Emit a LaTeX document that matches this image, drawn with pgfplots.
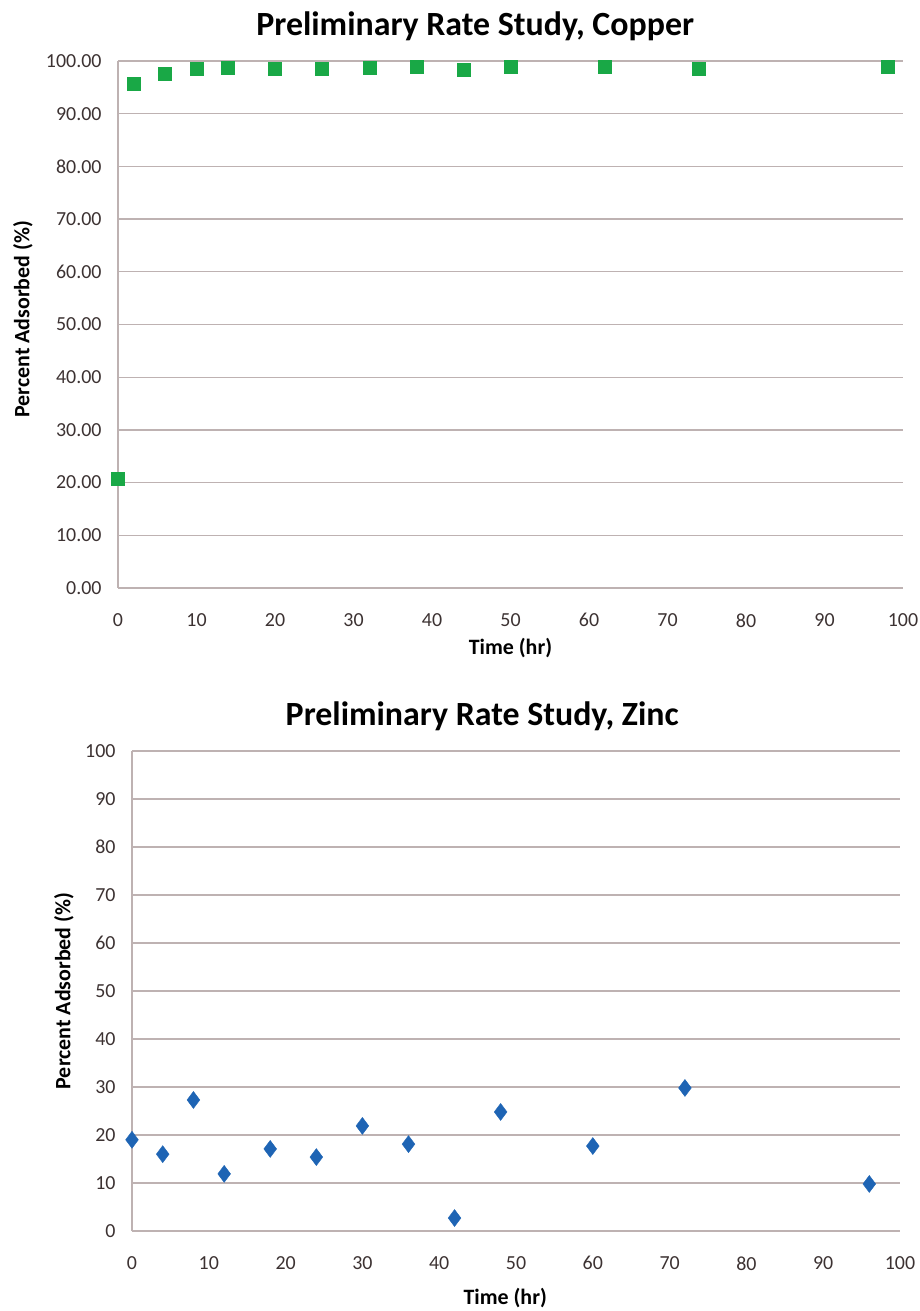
\documentclass[border=0pt]{standalone}
\usepackage{fontspec}
\setmainfont{Carlito}
\usepackage{pgfplots}
\pgfplotsset{compat=1.18}
\definecolor{gridc}{RGB}{190,178,178}
\definecolor{cugreen}{RGB}{25,168,70}
\definecolor{znblue}{RGB}{30,100,180}
\definecolor{tickc}{RGB}{60,50,50}
\pgfplotsset{
  base/.style={
    scale only axis,
    anchor=south west,
    xmin=0, xmax=100, ymin=0, ymax=100,
    xtick={0,10,...,100}, ytick={0,10,...,100},
    axis x line=bottom, axis y line=left,
    axis line style={gridc, line width=1.3bp, -},
    ymajorgrids, grid style={gridc, line width=1.3bp},
    major tick length=0pt, tick style={draw=none},
    /pgf/number format/assume math mode=true,
    tick label style={font=\fontsize{20}{24}\selectfont, text=tickc},
    xticklabel style={yshift=-22bp},
    yticklabel style={xshift=-13bp},
    title style={font=\fontsize{34}{38}\selectfont\bfseries, anchor=base},
    xlabel style={font=\fontsize{22}{26}\selectfont\bfseries, anchor=center},
    ylabel style={font=\fontsize{22}{26}\selectfont\bfseries, anchor=center},
    clip=false,
  }
}
\begin{document}
\begin{tikzpicture}
\useasboundingbox (0,0) rectangle (920bp,1311bp);
\begin{axis}[base,
  at={(118bp,723bp)}, width=785bp, height=527bp,
  yticklabel style={/pgf/number format/.cd, fixed, fixed zerofill, precision=2},
  title={Preliminary Rate Study, Copper},
  title style={at={(0.455,1)}, yshift=20bp},
  xlabel={Time (hr)}, xlabel style={at={(0.5,0)}, yshift=-60bp},
  ylabel={Percent Adsorbed (\%)}, ylabel style={at={(0,0.51)}, yshift=95bp},
]
\addplot[only marks, mark=square*, mark size=6.5bp, mark options={fill=cugreen, draw=cugreen}]
coordinates {
(0,20.7) (2,95.6) (6,97.5) (10,98.5) (14,98.7) (20,98.5) (26,98.5) (32,98.7)
(38,98.9) (44,98.3) (50,98.9) (62,98.9) (74,98.5) (98,98.9)
};
\end{axis}
\begin{axis}[base,
  at={(132bp,80bp)}, width=768bp, height=480bp,
  title={Preliminary Rate Study, Zinc},
  title style={at={(0.456,1)}, yshift=20bp},
  xlabel={Time (hr)}, xlabel style={at={(0.486,0)}, yshift=-67bp},
  ylabel={Percent Adsorbed (\%)}, ylabel style={at={(0,0.5)}, yshift=68bp},
]
\addplot[only marks, mark=diamond*, mark size=8.5bp, mark options={fill=znblue, draw=znblue}]
coordinates {
(0,19.0) (4,16.0) (8,27.3) (12,11.9) (18,17.1) (24,15.4) (30,21.9) (36,18.1)
(42,2.7) (48,24.8) (60,17.7) (72,29.8) (96,9.8)
};
\end{axis}
\end{tikzpicture}
\end{document}
